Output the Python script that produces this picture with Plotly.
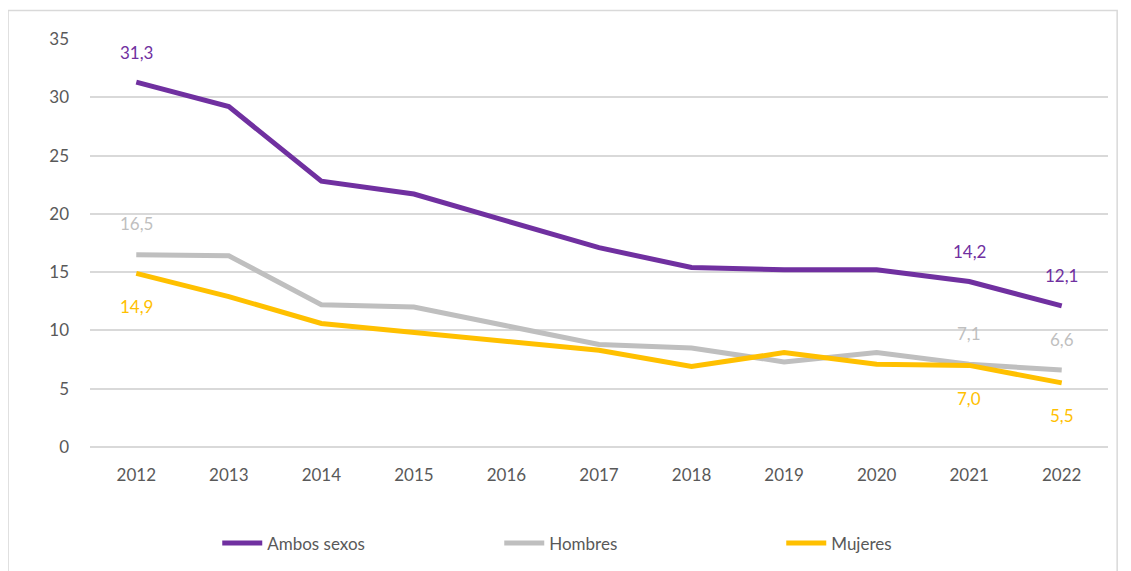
import plotly.graph_objects as go

years = ["2012", "2013", "2014", "2015", "2016", "2017", "2018", "2019", "2020", "2021", "2022"]
ambos = [31.3, 29.2, 22.8, 21.7, 19.4, 17.1, 15.4, 15.2, 15.2, 14.2, 12.1]
hombres = [16.5, 16.4, 12.2, 12.0, 10.4, 8.8, 8.5, 7.3, 8.1, 7.1, 6.6]
mujeres = [14.9, 12.9, 10.6, 9.8, 9.0, 8.3, 6.9, 8.1, 7.1, 7.0, 5.5]

labelled = [0, 9, 10]  # indices that carry a data label

PURPLE = "#7030A0"
GREY = "#BFBFBF"
YELLOW = "#FFC000"
FONT = "Lato"

fig = go.Figure()
for name, vals, color in [("Ambos sexos", ambos, PURPLE), ("Hombres", hombres, GREY), ("Mujeres", mujeres, YELLOW)]:
    fig.add_trace(go.Scatter(x=years, y=vals, mode="lines", name=name,
                             line=dict(color=color, width=5), hoverinfo="x+y"))

def fmt(v):
    return f"{v:.1f}".replace(".", ",")

annotations = []
for vals, color, shift in [(ambos, PURPLE, 30), (hombres, GREY, 31), (mujeres, YELLOW, -33)]:
    for i in labelled:
        annotations.append(dict(xref="x", yref="y", x=i, y=vals[i], text=fmt(vals[i]),
                                showarrow=False, yshift=shift,
                                font=dict(color=color, size=17, family=FONT)))

# page body adds an 8px offset, margins compensate for it
fig.update_layout(
    width=1131, height=571,
    margin=dict(l=82, r=31, t=31, b=132, autoexpand=False),
    plot_bgcolor="white", paper_bgcolor="white",
    font=dict(family=FONT, color="#595959", size=17),
    xaxis=dict(type="category", showgrid=False, showline=False, ticks="",
               tickfont=dict(size=17), range=[-0.5, 10.5], automargin=False,
               ticklabelstandoff=16),
    yaxis=dict(range=[0, 35], dtick=5, gridcolor="#D9D9D9", gridwidth=1.5,
               zeroline=True, zerolinecolor="#D9D9D9", zerolinewidth=1.5,
               tickfont=dict(size=17), automargin=False, ticklabelstandoff=20),
    legend=dict(orientation="h", x=0.125, xanchor="left", y=-0.192, yanchor="top",
                entrywidth=227, entrywidthmode="pixels", font=dict(size=17),
                itemwidth=40, tracegroupgap=0),
    showlegend=True,
    annotations=annotations,
    shapes=[dict(type="rect", xref="paper", yref="paper", x0=-0.0805, x1=1.009, y0=-0.40, y1=1.07,
                 line=dict(color="#D9D9D9", width=1.5), fillcolor="rgba(0,0,0,0)", layer="below")],
)

fig.write_html("out.html")
